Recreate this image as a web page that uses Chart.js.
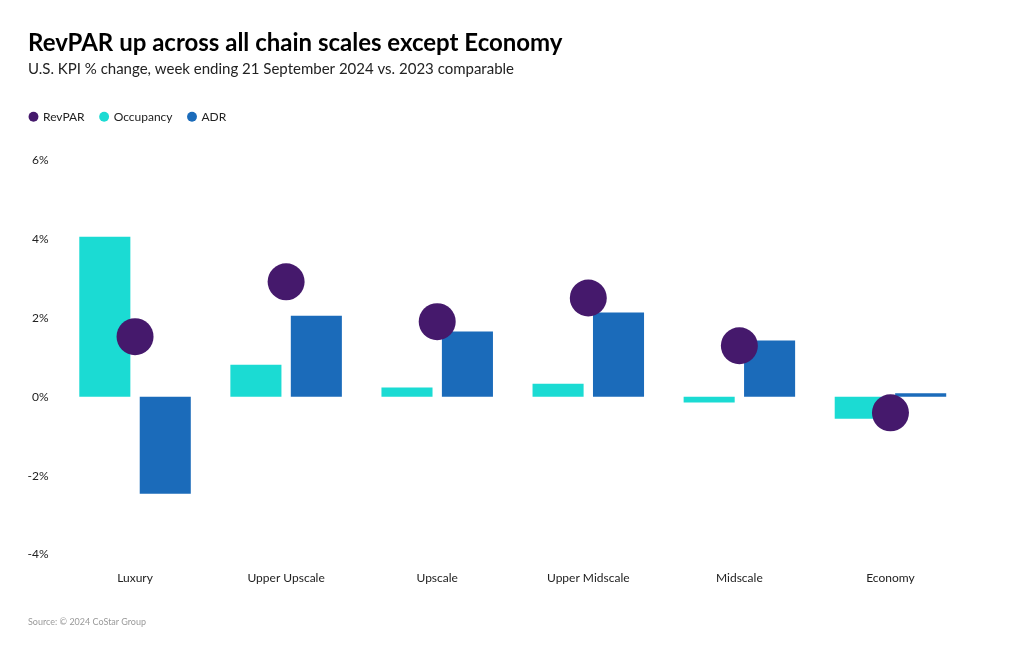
<!DOCTYPE html>
<html>
<head>
<meta charset="utf-8">
<script src="https://cdn.jsdelivr.net/npm/chart.js@4"></script>
<style>
  body { margin: 0; background: #fff; }
  #wrap { position: relative; width: 1020px; height: 650px; }
  #source { position: absolute; left: 28px; top: 616px; font: 9px Lato, sans-serif; color: #9a9a9a; }
</style>
</head>
<body>
<div id="wrap">
  <canvas id="chart" width="1020" height="650"></canvas>
  <div id="source">Source: © 2024 CoStar Group</div>
</div>
<script>
const categories = ['Luxury', 'Upper Upscale', 'Upscale', 'Upper Midscale', 'Midscale', 'Economy'];
const revpar = [1.52, 2.91, 1.9, 2.5, 1.29, -0.41];
const occupancy = [4.05, 0.81, 0.23, 0.33, -0.15, -0.56];
const adr = [-2.46, 2.05, 1.65, 2.13, 1.42, 0.09];
const yTicks = [-4, -2, 0, 2, 4, 6];

const FONT = 'Lato, "Noto Sans", sans-serif';
const LEGEND_PAD = 16;

// legend: flush left with the title, extra room below it
const legendTweak = {
  id: 'legendTweak',
  afterInit(chart) {
    const fit = chart.legend.fit;
    chart.legend.fit = function () {
      fit.call(this);
      this.height += 27;
    };
  },
  afterLayout(chart) {
    chart.legend.left -= 14;
  }
};

let chart = new Chart(document.querySelector('#chart'), {
  type: 'bar',
  data: {
    labels: categories,
    datasets: [
      {
        type: 'line',
        label: 'RevPAR',
        data: revpar,
        showLine: false,
        pointRadius: 18.5,
        pointHoverRadius: 18.5,
        pointBackgroundColor: '#45196c',
        pointBorderWidth: 0,
        backgroundColor: '#45196c',
        borderColor: '#45196c',
        order: 0
      },
      {
        label: 'Occupancy',
        data: occupancy,
        backgroundColor: '#1bdbd3',
        borderWidth: 0,
        categoryPercentage: 0.8,
        barPercentage: 0.845,
        order: 1
      },
      {
        label: 'ADR',
        data: adr,
        backgroundColor: '#1b6bba',
        borderWidth: 0,
        categoryPercentage: 0.8,
        barPercentage: 0.845,
        order: 1
      }
    ]
  },
  options: {
    responsive: false,
    animation: false,
    layout: { padding: { left: 28, right: 54, top: 0, bottom: 49 } },
    plugins: {
      title: {
        display: true,
        text: 'RevPAR up across all chain scales except Economy',
        align: 'start',
        color: '#000',
        font: { family: FONT, size: 24, weight: 'bold' },
        padding: { top: 29, bottom: 2 }
      },
      subtitle: {
        display: true,
        text: 'U.S. KPI % change, week ending 21 September 2024 vs. 2023 comparable',
        align: 'start',
        color: '#222',
        font: { family: FONT, size: 15 },
        padding: { top: 0, bottom: 17 }
      },
      legend: {
        display: true,
        position: 'top',
        align: 'start',
        labels: {
          usePointStyle: true,
          pointStyle: 'circle',
          boxWidth: 7,
          boxHeight: 7,
          color: '#222',
          font: { family: FONT, size: 12 },
          padding: LEGEND_PAD,
          sort: (a, b) => a.datasetIndex - b.datasetIndex
        }
      },
      tooltip: { enabled: false }
    },
    scales: {
      x: {
        grid: { display: false, drawTicks: false },
        border: { display: false },
        ticks: { color: '#222', font: { family: FONT, size: 12 }, padding: 16 }
      },
      y: {
        min: -4,
        max: 6,
        afterBuildTicks: (axis) => { axis.ticks = yTicks.map(v => ({ value: v })); },
        afterFit: (axis) => { axis.width = 31.5; },
        grid: { display: false, drawTicks: false },
        border: { display: false },
        ticks: {
          color: '#222',
          font: { family: FONT, size: 12 },
          padding: 11,
          callback: (v) => v + '%'
        }
      }
    }
  },
  plugins: [legendTweak]
});
</script>
</body>
</html>
